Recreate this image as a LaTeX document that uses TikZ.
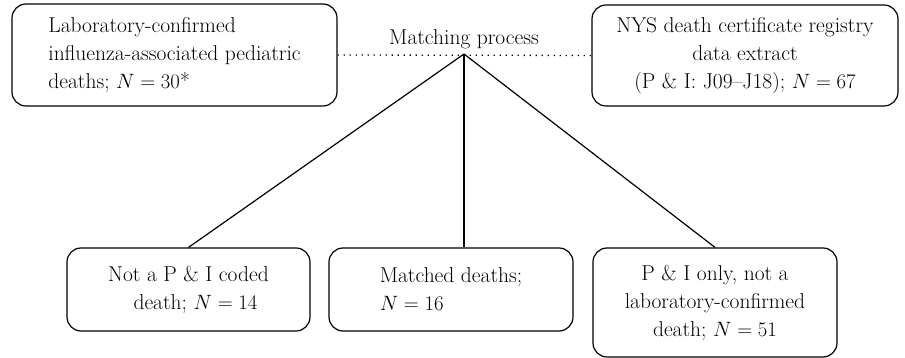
\documentclass[tikz,border=0pt]{standalone}
\usepackage{amsmath}
\usepackage{amssymb}

\begin{document}
\begin{tikzpicture}[x=1pt,y=1pt,
  roundbox/.style={draw,line width=1.2pt,rounded corners=14pt,inner sep=0pt,font=\fontsize{21.5}{28}\selectfont},
  txt/.style={font=\fontsize{21.5}{28}\selectfont}]
  \useasboundingbox (0,0) rectangle (905,358);
  \node[roundbox,minimum width=325,minimum height=102,align=left] (labbox) at (174.5,303)
    {Laboratory-confirmed\\influenza-associated pediatric\\deaths; $N = 30$*};
  \node[roundbox,minimum width=306,minimum height=101,align=center] (nysbox) at (745,302.5)
    {NYS death certificate registry\\data extract\\(P \& I: J09--J18); $N = 67$};
  \node[txt,anchor=base] (match) at (464,313) {Matching process};
  \coordinate (apex) at (464,304);
  \draw[line width=1.3pt,dash pattern=on 1.3pt off 4.7pt] (labbox.east) -- (nysbox.west);
  \node[roundbox,minimum width=243,minimum height=83,align=center] (notpi) at (188.5,68.5)
    {Not a P \& I coded\\\hspace*{14pt}death; $N = 14$};
  \node[roundbox,minimum width=244,minimum height=83,align=left] (matched) at (451,68.5)
    {Matched deaths;\\$N = 16$};
  \node[roundbox,minimum width=244,minimum height=109,align=center] (pionly) at (715,55.5)
    {P \& I only, not a\\laboratory-confirmed\\death; $N = 51$};
  \draw[line width=1.2pt] (apex) -- (notpi.north);
  \draw[line width=1.2pt] (apex) -- (apex |- matched.north);
  \draw[line width=1.2pt] (apex) -- (pionly.north);
\end{tikzpicture}
\end{document}
